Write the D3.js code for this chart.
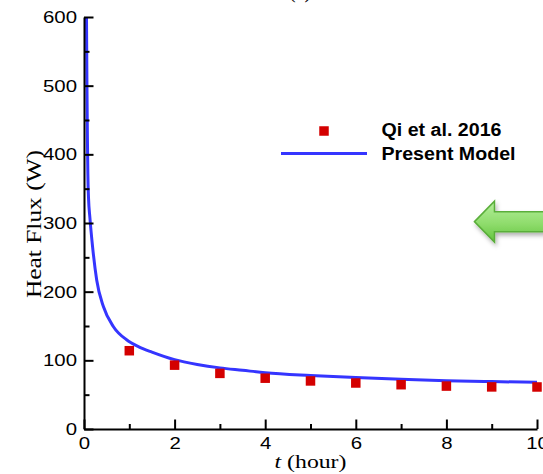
<!DOCTYPE html>
<html>
<head>
<meta charset="utf-8">
<script src="https://cdn.jsdelivr.net/npm/d3@7"></script>
<style>
  html, body { margin: 0; padding: 0; background: #fff; }
  svg { display: block; }
  .tick text { font-family: "Liberation Sans", Arial, sans-serif; font-size: 17px; fill: #000; }
</style>
</head>
<body>
<svg id="chart" width="543" height="474"></svg>
<script>
// Measured heat flux (Qi et al. 2016)
const qiTime = [1, 2, 3, 4, 5, 6, 7, 8, 9, 10];
const qiFlux = [114, 93, 81, 74, 70, 67, 64.5, 62.5, 61.3, 61.2];

// Present model prediction
const modelTime = [0.055, 0.065, 0.075, 0.085, 0.1, 0.13, 0.19, 0.28, 0.43, 0.65, 0.94, 1.2, 1.5, 2, 2.5, 3, 3.5, 4, 5, 6, 7, 8, 9, 10];
const modelFlux = [600, 500, 425, 372, 336, 308, 265, 217, 178, 149, 130, 120, 112, 101, 94, 89, 85.5, 82, 78, 75, 72.5, 70.3, 69, 68];

// Axis ticks
const xMajorTicks = [0, 2, 4, 6, 8, 10];
const xMinorTicks = [1, 3, 5, 7, 9];
const yMajorTicks = [0, 100, 200, 300, 400, 500, 600];
const yMinorTicks = [50, 150, 250, 350, 450, 550];

const seriesNames = ["Qi et al. 2016", "Present Model"];

const svg = d3.select("#chart");

const x = d3.scaleLinear().domain([0, 10]).range([84, 537]);
const y = d3.scaleLinear().domain([0, 600]).range([429, 17]);

const pointColor = "#d40000";
const lineColor = "#3535ff";

// Panel label, mostly above the top edge
svg.append("text")
  .attr("x", 300).attr("y", -2)
  .attr("text-anchor", "middle")
  .style("font-family", "'Liberation Serif', 'Times New Roman', serif")
  .style("font-size", "20px")
  .text("(a)");

// Widen glyphs horizontally around the text anchor
function widen(sel, k) {
  sel.each(function () {
    const t = d3.select(this);
    const x0 = +t.attr("x") || 0;
    t.attr("transform", `translate(${x0},0) scale(${k},1) translate(${-x0},0)`);
  });
}

// Model curve
const line = d3.line()
  .x((d, i) => x(modelTime[i]))
  .y((d, i) => y(modelFlux[i]))
  .curve(d3.curveMonotoneX);

svg.append("path")
  .datum(modelFlux)
  .attr("d", line)
  .attr("fill", "none")
  .attr("stroke", lineColor)
  .attr("stroke-width", 3);

// Measured points
const sq = 9.5;
svg.append("g").selectAll("rect")
  .data(qiFlux)
  .join("rect")
  .attr("x", (d, i) => x(qiTime[i]) - sq / 2)
  .attr("y", d => y(d) - sq / 2)
  .attr("width", sq)
  .attr("height", sq)
  .attr("fill", pointColor);

// Axes
const yAxis = svg.append("g").attr("transform", `translate(${x(0)},0)`)
  .call(d3.axisLeft(y).tickValues(yMajorTicks).tickSize(-9.5).tickSizeOuter(0).tickPadding(7));
const yMinor = svg.append("g").attr("transform", `translate(${x(0)},0)`)
  .call(d3.axisLeft(y).tickValues(yMinorTicks).tickSize(-5.5).tickSizeOuter(0).tickFormat(""));
const xAxis = svg.append("g").attr("transform", `translate(0,${y(0)})`)
  .call(d3.axisBottom(x).tickValues(xMajorTicks).tickSize(-9.5).tickSizeOuter(0).tickPadding(8));
const xMinor = svg.append("g").attr("transform", `translate(0,${y(0)})`)
  .call(d3.axisBottom(x).tickValues(xMinorTicks).tickSize(-5).tickSizeOuter(0).tickFormat(""));

yMinor.select(".domain").remove();
xMinor.select(".domain").remove();
[yAxis, yMinor, xAxis, xMinor].forEach(g => {
  g.selectAll(".domain, .tick line").attr("stroke", "#000").attr("stroke-width", 2);
});
widen(yAxis.selectAll(".tick text"), 1.2);
widen(xAxis.selectAll(".tick text"), 1.2);

// Axis titles
svg.append("text")
  .attr("transform", `translate(40.5,224) rotate(-90)`)
  .attr("text-anchor", "middle")
  .attr("textLength", 148)
  .attr("lengthAdjust", "spacingAndGlyphs")
  .style("font-family", "'Liberation Serif', 'Times New Roman', serif")
  .style("font-size", "21px")
  .text("Heat Flux (W)");

const xTitle = svg.append("text")
  .attr("transform", `translate(310.5,467.5) scale(1.25,1)`)
  .attr("text-anchor", "middle")
  .style("font-family", "'Liberation Serif', 'Times New Roman', serif")
  .style("font-size", "19px");
xTitle.append("tspan").style("font-style", "italic").text("t");
xTitle.append("tspan").text(" (hour)");

// Legend
const legend = svg.append("g");
legend.append("rect")
  .attr("x", 324 - sq / 2).attr("y", 131 - sq / 2)
  .attr("width", sq).attr("height", sq)
  .attr("fill", pointColor);
legend.append("line")
  .attr("x1", 281).attr("x2", 367)
  .attr("y1", 153.5).attr("y2", 153.5)
  .attr("stroke", lineColor).attr("stroke-width", 3);
legend.selectAll("text.lbl")
  .data(seriesNames)
  .join("text")
  .attr("class", "lbl")
  .attr("x", 381.5)
  .attr("y", (d, i) => 136 + i * 23.5)
  .attr("textLength", (d, i) => [120, 134][i])
  .attr("lengthAdjust", "spacingAndGlyphs")
  .style("font-family", "'Liberation Sans', Arial, sans-serif")
  .style("font-weight", "bold")
  .style("font-size", "17.5px")
  .text(d => d);

// Green pointer arrow at the right edge
const defs = svg.append("defs");
const grad = defs.append("linearGradient").attr("id", "arrowFill")
  .attr("x1", 0).attr("y1", 0).attr("x2", 0).attr("y2", 1);
grad.append("stop").attr("offset", "0%").attr("stop-color", "#b4ef9c");
grad.append("stop").attr("offset", "55%").attr("stop-color", "#8fdc6c");
grad.append("stop").attr("offset", "100%").attr("stop-color", "#62c43e");
const shadow = defs.append("filter").attr("id", "arrowShadow")
  .attr("x", "-20%").attr("y", "-30%").attr("width", "160%").attr("height", "180%");
shadow.append("feDropShadow")
  .attr("dx", 1.5).attr("dy", 3).attr("stdDeviation", 2)
  .attr("flood-color", "#000").attr("flood-opacity", 0.3);

const arrowTip = { t: 8.62, q: 302 };
const ax = x(arrowTip.t), ay = y(arrowTip.q);
const headLen = 20, headHalf = 20.5, shaftHalf = 10;
const arrowPath = d3.path();
arrowPath.moveTo(ax, ay);
arrowPath.lineTo(ax + headLen, ay - headHalf);
arrowPath.lineTo(ax + headLen, ay - shaftHalf);
arrowPath.lineTo(ax + 120, ay - shaftHalf);
arrowPath.lineTo(ax + 120, ay + shaftHalf);
arrowPath.lineTo(ax + headLen, ay + shaftHalf);
arrowPath.lineTo(ax + headLen, ay + headHalf);
arrowPath.closePath();
svg.append("path")
  .attr("d", arrowPath.toString())
  .attr("fill", "url(#arrowFill)")
  .attr("stroke", "#5aae3a")
  .attr("stroke-width", 1.5)
  .attr("stroke-linejoin", "miter")
  .attr("filter", "url(#arrowShadow)");
</script>
</body>
</html>
